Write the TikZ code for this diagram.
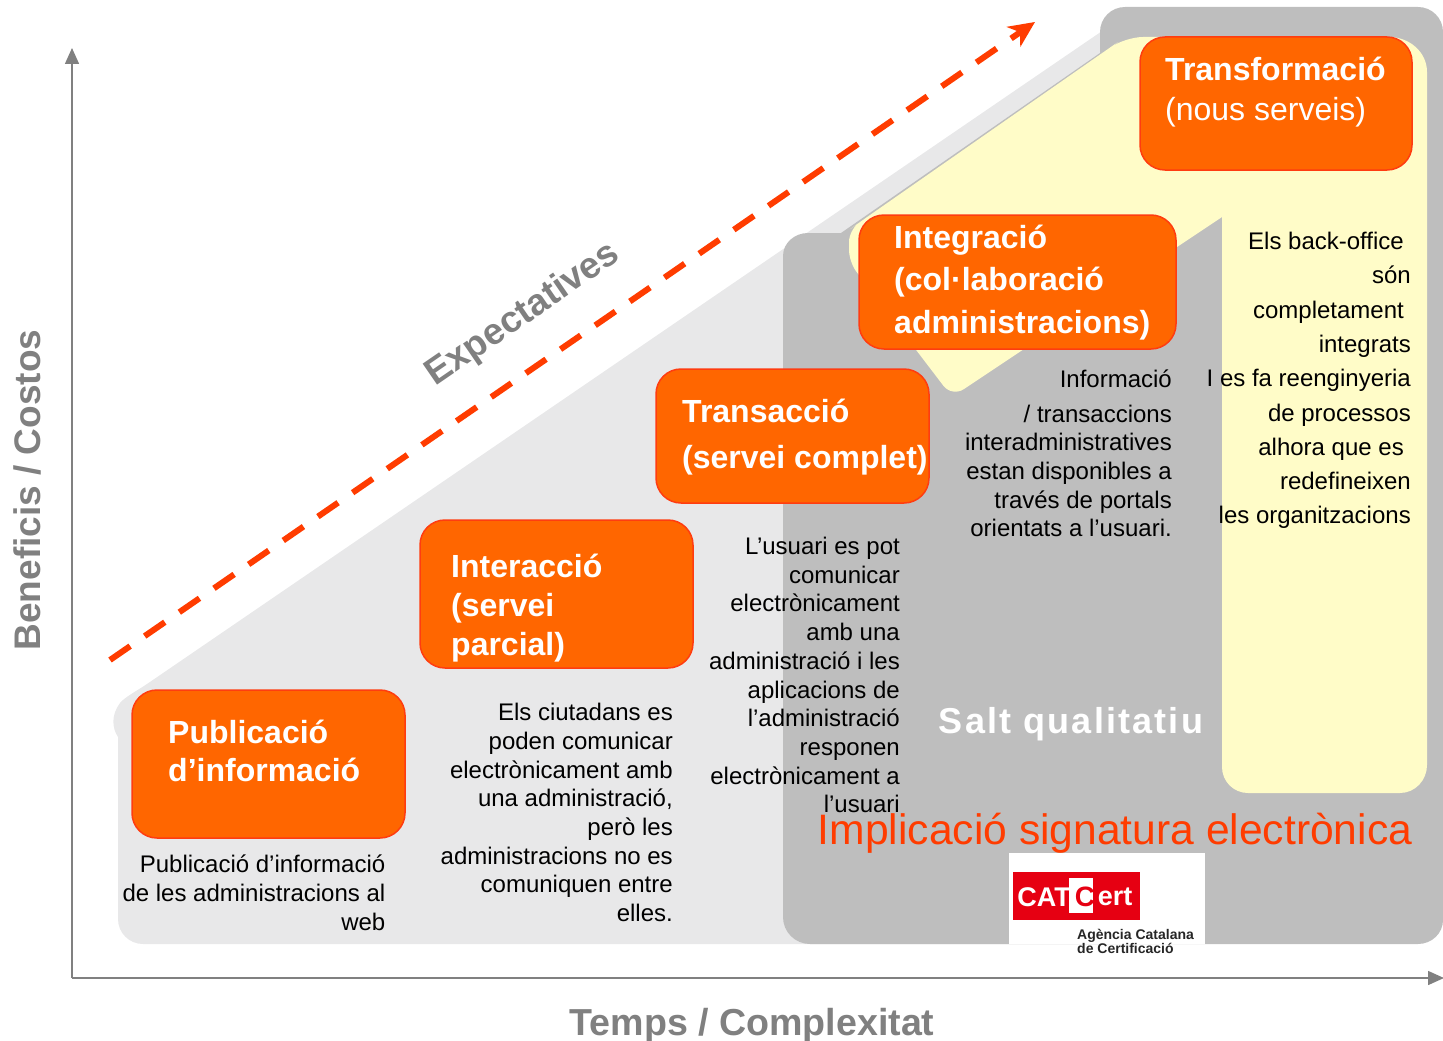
\documentclass[tikz,border=0pt]{standalone}
\usepackage{fontspec}
\setmainfont{Liberation Sans}
\usetikzlibrary{arrows.meta}
\definecolor{boxfill}{HTML}{FF6600}
\definecolor{boxline}{HTML}{FF3C10}
\definecolor{redline}{HTML}{FF3C00}
\definecolor{lightzone}{HTML}{E8E8E9}
\definecolor{darkzone}{HTML}{BEBEBE}
\definecolor{yellowzone}{HTML}{FFFCC8}
\definecolor{axisgray}{HTML}{808080}
\definecolor{catred}{HTML}{E60012}
\tikzset{
  stagebox/.style={draw=boxline,fill=boxfill,line width=1.5pt,rounded corners=25pt},
  stagetext/.style={text=white,anchor=north west,align=left,inner sep=0pt,font=\fontsize{32}{40}\selectfont\bfseries},
  bodytext/.style={text=black,anchor=north east,align=right,inner sep=0pt,font=\fontsize{24}{28.7}\selectfont},
  axisline/.style={draw=axisgray,line width=1.5pt,-{Triangle[length=16pt,width=14pt]}},
  axislabel/.style={text=axisgray,inner sep=0pt,font=\fontsize{37.6}{44}\selectfont\bfseries},
}
\begin{document}
\begin{tikzpicture}[x=1pt,y=-1pt]
\useasboundingbox (0,0) rectangle (1443,1041);
% zones
\fill[lightzone] (118,737) .. controls (112,728) and (111,715) .. (120,703) .. controls (125,697) and (135,692) .. (147,684) -- (1108,27) -- (1108,944) -- (143,944) to[out=180,in=-90] (118,919) -- cycle;
\fill[darkzone] (1100,32) to[out=90,in=180] (1125,7) -- (1418,7) to[out=0,in=90] (1443,32) -- (1443,920) to[out=-90,in=0] (1418,944) -- (810,944) to[out=180,in=-90] (783,917) -- (783,256) to[out=90,in=180] (808,233) -- (841,233) -- (1100,53) -- cycle;
\fill[yellowzone] (860,222) -- (1118,42) [rounded corners=18pt] -- (1125,37) [sharp corners] -- (1389,37) to[out=0,in=90] (1427,72) -- (1427,765) to[out=-90,in=0] (1400,793) -- (1248,793) to[out=180,in=-90] (1222,767) -- (1222,217) [rounded corners=14pt] -- (952,397) [rounded corners=12pt] -- (849,262) -- (849,230) -- cycle;
% axes
\coordinate (origin) at (72,978);
\coordinate (ytip) at (72,48);
\coordinate (xtip) at (1444,978);
\draw[axisline] (origin) -- (ytip);
\draw[axisline] (origin) -- (xtip);
% expectations arrow
\coordinate (dashstart) at (110,660);
\coordinate (dashend) at (1035,22);
\draw[redline,line width=6pt,dash pattern=on 24.5pt off 17.6pt,-{Stealth[length=26pt,width=24pt,inset=8pt]}] (dashstart) -- (dashend);
% stage boxes
\path[stagebox] (132,690) rectangle (405,838);
\path[stagebox] (420,520) rectangle (693,668);
\path[stagebox] (656,369) rectangle (929,503);
\path[stagebox] (859,215) rectangle (1176,349);
\path[stagebox] (1140,37) rectangle (1412,170);
\node[stagetext] (s1) at (168,720) {Publicació\\[-2.5pt]d’informació};
\node[stagetext] (s2) at (451,554) {Interacció\\[-1pt](servei\\[-1pt]parcial)};
\node[stagetext] (s3) at (682,399) {Transacció\\[6pt](servei complet)};
\node[stagetext] (s4) at (894,225) {Integració\\[2pt](col·laboració\\[2.5pt]administracions)};
\node[stagetext] (s5) at (1165,57) {Transformació\\[0pt]{\fontsize{32}{40}\selectfont\mdseries (nous serveis)}};
% body texts
\node[bodytext] (b1) at (385.5,855) {Publicació d’informació\\de les administracions al\\web};
\node[bodytext] (b2) at (673,703) {Els ciutadans es\\poden comunicar\\electrònicament amb\\una administració,\\però les\\administracions no es\\comuniquen entre\\elles.};
\node[bodytext] (b3) at (900,537) {L’usuari es pot\\comunicar\\electrònicament\\amb una\\administració i les\\aplicacions de\\l’administració\\responen\\electrònicament a\\l’usuari};
\node[bodytext] (b4) at (1172,370) {Informació\\[5.5pt]/ transaccions\\interadministratives\\estan disponibles a\\través de portals\\orientats a l’usuari.};
\node[bodytext] (b5) at (1411,232) {\mbox{Els back-office\kern7pt}\\[5.6pt]són\\[5.6pt]\mbox{completament\kern7pt}\\[5.6pt]integrats\\[5.6pt]I es fa reenginyeria\\[5.6pt]de processos\\[5.6pt]\mbox{alhora que es\kern7pt}\\[5.6pt]redefineixen\\[5.6pt]les organitzacions};
% labels
\node[axislabel,font=\fontsize{37}{44}\selectfont\bfseries,rotate=34.5] (exp) at (523,315) {Expectatives};
\node[axislabel,font=\fontsize{37}{44}\selectfont\bfseries,rotate=90] (ylab) at (27,490) {Beneficis / Costos};
\node[axislabel] (xlab) at (752,1026) {Temps / Complexitat};
\node[text=white,inner sep=0pt] (salt) at (1071,724) {\fontsize{36}{40}\selectfont\bfseries\addfontfeature{LetterSpace=6}Salt qualitatiu};
\node[text=redline,inner sep=0pt,font=\fontsize{42.6}{48}\selectfont] (impl) at (1115,833) {Implicació signatura electrònica};
% logo
\fill[white] (1009,853) rectangle (1205,944);
\fill[catred] (1013,872) rectangle (1140,920);
\fill[white] (1069,878) rectangle (1093,913);
\node[text=white,inner sep=0pt,font=\fontsize{27}{30}\selectfont\bfseries] (cat) at (1044,897) {CAT};
\node[text=catred,inner sep=0pt,font=\fontsize{28}{30}\selectfont\bfseries] (catc) at (1085,897) {C};
\node[text=white,inner sep=0pt,font=\fontsize{27}{30}\selectfont\bfseries] (cert) at (1115,897) {ert};
\node[text=black!85,anchor=north west,align=left,inner sep=0pt,font=\fontsize{14}{14.5}\selectfont\bfseries] (agency) at (1077,929) {Agència Catalana\\de Certificació};
\end{tikzpicture}
\end{document}
